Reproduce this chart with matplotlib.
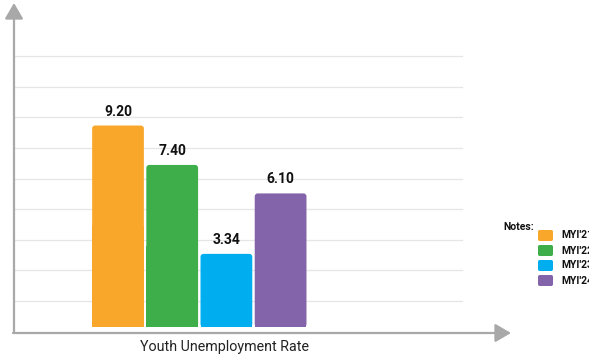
import matplotlib
matplotlib.use("Agg")
import matplotlib.pyplot as plt
from matplotlib.patches import Rectangle, FancyBboxPatch, FancyArrowPatch

categories = ["MYI'21", "MYI'22", "MYI'23", "MYI'24"]
values = [9.20, 7.40, 3.34, 6.10]
value_labels = ["9.20", "7.40", "3.34", "6.10"]
colors = ["#F9A72B", "#3DAE4A", "#00AEEF", "#8364AA"]
x_label = "Youth Unemployment Rate"
legend_title = "Notes:"

plt.rcParams['font.family'] = ['Roboto', 'DejaVu Sans']

W, H = 589, 356
fig = plt.figure(figsize=(W / 100, H / 100), dpi=100)

def fx(px):
    return px / W

def fy(py):
    return 1 - py / H

# axes: left 14px, right 508px, bottom 333px, top 5px
ax = fig.add_axes([fx(14), fy(333), fx(508) - fx(14), fy(5) - fy(333)])
ppu = 21.9  # pixels per value unit
ax.set_ylim(-(333 - 327) / ppu, (327 - 5) / ppu)
xs = list(range(len(values)))
step = 54.2
ax.set_xlim(-(118 - 14) / step, (508 - 118) / step)
ax.axis('off')

# gridlines (axes fraction)
g0 = (333 - 301) / 328
gs = 30.6 / 328
for k in range(9):
    yy = g0 + k * gs
    ax.plot([0.002, (462 - 14) / 494], [yy, yy], transform=ax.transAxes,
            color="#e6e6e6", lw=0.9, zorder=0, clip_on=False)

bars = ax.bar(xs, values, width=0.955, color=colors, zorder=2)
# replace with slightly rounded boxes
r = 3 / step
for b, c in zip(bars.patches, colors):
    x0, y0 = b.get_x(), b.get_y()
    w, h = b.get_width(), b.get_height()
    b.set_visible(False)
    ax.add_patch(FancyBboxPatch((x0, y0), w, h,
                                boxstyle=f"round,pad=0,rounding_size={r}",
                                mutation_aspect=step / ppu,
                                facecolor=c, edgecolor='none', zorder=2))
    # square off bottom
    ax.add_patch(Rectangle((x0, y0), w, h * 0.5, facecolor=c,
                           edgecolor='none', zorder=2))

for x, v, lab in zip(xs, values, value_labels):
    ax.annotate(lab, (x, v), xytext=(0, 5), textcoords='offset points',
                ha='center', va='bottom', fontsize=10, fontweight='bold',
                color='#111111')

# axis arrows
ac = "#a8a8a8"
fig.add_artist(FancyArrowPatch(
    (fx(14), fy(333)), (fx(14), fy(3)), transform=fig.transFigure,
    arrowstyle='-|>,head_length=6,head_width=3.5', color=ac, lw=1.6,
    mutation_scale=1.6, shrinkA=0, shrinkB=0))
fig.add_artist(FancyArrowPatch(
    (fx(13), fy(333)), (fx(511), fy(333)), transform=fig.transFigure,
    arrowstyle='-|>,head_length=6,head_width=3.5', color=ac, lw=1.6,
    mutation_scale=1.6, shrinkA=0, shrinkB=0))

fig.text(fx(225), fy(347), x_label, ha='center', va='center',
         fontsize=10.3, color='#222222')

# legend
fig.text(fx(503), fy(227), legend_title, ha='left', va='center',
         fontsize=7.5, fontweight='bold', color='#111111')
for i, (c, lab) in enumerate(zip(colors, categories)):
    top = 230 + i * 15
    fig.add_artist(FancyBboxPatch((fx(538), fy(top + 11)), fx(15), 11 / H,
                                  boxstyle="round,pad=0,rounding_size=0.003",
                                  mutation_aspect=W / H,
                                  transform=fig.transFigure, facecolor=c,
                                  edgecolor='none'))
    fig.text(fx(561), fy(top + 5.5), lab, ha='left', va='center',
             fontsize=7.5, fontweight='bold', color='#111111')

fig.savefig("out.png", dpi=100)
